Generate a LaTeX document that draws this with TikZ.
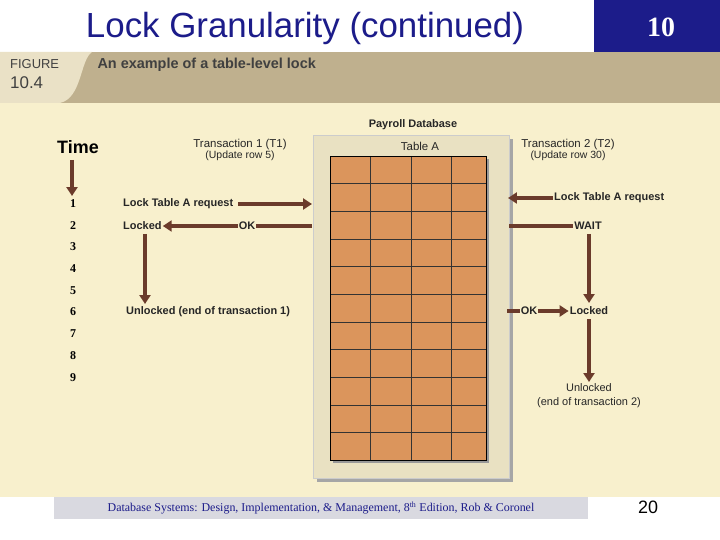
\documentclass[tikz,border=0pt]{standalone}
\usepackage{fontspec}
\setmainfont{Liberation Serif}
\setsansfont{Liberation Sans}
\usetikzlibrary{arrows.meta,positioning}
\definecolor{navy}{HTML}{1C1C8A}
\definecolor{bandtan}{HTML}{BFB08E}
\definecolor{bandlight}{HTML}{EAE1C6}
\definecolor{cream}{HTML}{F8F0CD}
\definecolor{framefill}{HTML}{E9E1C2}
\definecolor{cellfill}{HTML}{DB955C}
\definecolor{brownarrow}{HTML}{6B3B2B}
\definecolor{footgray}{HTML}{D9D9E0}
\tikzset{
  lbl/.style={font=\sffamily\bfseries\fontsize{11}{12}\selectfont, text=black!85, inner sep=1pt},
  tlbl/.style={font=\sffamily\fontsize{11.5}{11}\selectfont, text=black!85, inner sep=1pt, align=center},
  num/.style={font=\rmfamily\bfseries\fontsize{12}{13}\selectfont, inner sep=1pt},
  arrow/.style={draw=brownarrow, line width=3.5pt, -{Triangle[length=9pt,width=11pt]}},
  bar/.style={draw=brownarrow, line width=3.5pt}
}
\begin{document}
\begin{tikzpicture}[x=1bp,y=-1bp]
\useasboundingbox (0,0) rectangle (720,540);
\fill[white] (0,0) rectangle (720,540);
% title
\node (title) [font=\sffamily\fontsize{35}{38}\selectfont, text=navy] at (305,28) {Lock Granularity (continued)};
\fill[navy] (594,0) rectangle (720,52);
\node (chap) [font=\rmfamily\bfseries\fontsize{28}{30}\selectfont, text=white] at (661,27) {10};
% figure header
\fill[bandtan] (0,52) rectangle (720,103);
\fill[bandlight] (0,52) -- (92,52) .. controls (80,60) and (82,98) .. (60,103) -- (0,103) -- cycle;
\node (fig) [anchor=west, font=\sffamily\fontsize{13}{14}\selectfont, text=black!75, inner sep=0pt] at (10,64) {FIGURE};
\node (fignum) [anchor=west, font=\sffamily\fontsize{17}{18}\selectfont, text=black!75, inner sep=0pt] at (10,83) {10.4};
\node (caption) [anchor=west, font=\sffamily\bfseries\fontsize{14.5}{16}\selectfont, text=black!75] at (94,65) {An example of a table-level lock};
\fill[cream] (0,103) rectangle (720,497);
% table
\fill[black!35] (317,139) rectangle (513,482);
\fill[framefill] (313,135) rectangle (509,478);
\draw[white!80!black] (313,135) rectangle (509,478);
\fill[black!40] (333,159) rectangle (489,463);
\fill[cellfill] (330,156) rectangle (486,460);
\foreach \xc in {370,411,451} \draw[black!80] (\xc,156) -- (\xc,460);
\foreach \r in {1,...,10} \draw[black!80] (330,{156+\r*27.64}) -- (486,{156+\r*27.64});
\draw[black, line width=1pt] (330,156) rectangle (486,460);
\node (db) [lbl] at (413,125) {Payroll Database};
\node (tabA) [tlbl] at (420,146) {Table A};
% time axis
\node (time) [font=\sffamily\bfseries\fontsize{18}{20}\selectfont] at (78,147) {Time};
\coordinate (tstart) at (72,160);
\coordinate (tend) at (72,196);
\draw[arrow] (tstart) -- (tend);
\foreach \n/\yy in {1/204,2/226,3/247,4/269,5/291,6/312,7/334,8/356,9/378}
  \node (n\n) [num] at (73,\yy) {\n};
% transaction 1
\node (t1) [tlbl] at (240,150) {Transaction 1 (T1)\\{\fontsize{10.5}{11}\selectfont(Update row 5)}};
\node (req1) [lbl, anchor=west] at (122,204) {Lock Table A request};
\coordinate (tab1) at (312,204);
\draw[arrow] (req1.east) ++(4,0) coordinate (r1s) -- (tab1);
\node (ok1) [lbl] at (247,226) {OK};
\node (lock1) [lbl, anchor=west] at (122,226) {Locked};
\coordinate (tab2) at (312,226);
\draw[bar] (tab2) -- (ok1.east);
\draw[arrow] (ok1.west) -- (lock1.east);
\node (unl1) [lbl, anchor=west] at (125,312) {Unlocked (end of transaction 1)};
\draw[arrow] (145,234) -- (145,304);
% transaction 2
\node (t2) [tlbl] at (568,150) {Transaction 2 (T2)\\{\fontsize{10.5}{11}\selectfont(Update row 30)}};
\node (req2) [lbl, anchor=west] at (553,198) {Lock Table A request};
\coordinate (tab3) at (508,198);
\draw[arrow] (req2.west) -- (tab3);
\node (wait) [lbl] at (588,226) {WAIT};
\coordinate (tab4) at (509,226);
\draw[bar] (tab4) -- (wait.west);
\draw[arrow] (589,234) -- (589,303);
\node (ok2) [lbl] at (529,311) {OK};
\node (lock2) [lbl] at (589,311) {Locked};
\coordinate (tab5) at (507,311);
\draw[bar] (tab5) -- (ok2.west);
\draw[arrow] (ok2.east) -- (lock2.west);
\node (unl2) [lbl, align=center, font=\sffamily\fontsize{11}{14}\selectfont] at (589,396) {Unlocked\\(end of transaction 2)};
\draw[arrow] (lock2.south) ++(0,3) -- (589,382);
% footer
\fill[footgray] (54,497) rectangle (588,519);
\node (foot) [font=\rmfamily\fontsize{12}{13}\selectfont, text=navy] at (321,508) {Database Systems: Design, Implementation, \& Management, 8\textsuperscript{th} Edition, Rob \& Coronel};
\node (page) [font=\sffamily\fontsize{18}{20}\selectfont] at (648,507) {20};
\end{tikzpicture}
\end{document}
